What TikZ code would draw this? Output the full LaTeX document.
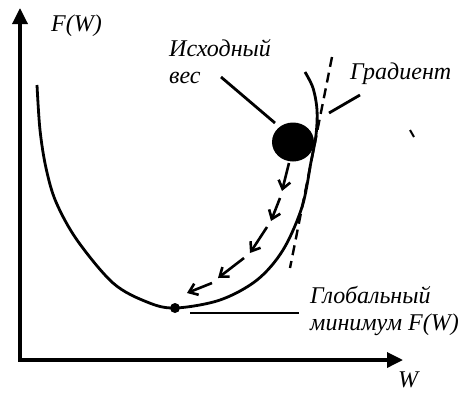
\documentclass[tikz,border=0pt]{standalone}
\usepackage{fontspec}
\setmainfont{Liberation Serif}
\usetikzlibrary{arrows.meta,shapes.geometric}
\begin{document}
\begin{tikzpicture}[x=1pt,y=-1pt,
  axis/.style={line width=3.4pt,-{Triangle[length=16pt,width=15pt]}},
  curve/.style={line width=2.8pt},
  lead/.style={line width=2.8pt},
  lbl/.style={font=\itshape\fontsize{24}{27}\selectfont,inner sep=0pt,align=left},
  stepar/.style={line width=2.6pt,-{Straight Barb[length=8pt,width=12pt]}}]
\useasboundingbox (0,0) rectangle (462,392);
% axes
\coordinate (O) at (20,360);
\coordinate (Ytop) at (20,8);
\coordinate (Xend) at (403,360);
\draw[axis] (O) -- (Ytop);
\draw[axis] ([xshift=-1.7pt]O) -- (Xend);
\node[lbl,anchor=west] (FW) at (51,26) {F(W)};
\node[lbl] (Wl) at (408,380) {W};
% curve
\draw[curve] plot[smooth,tension=0.55] coordinates {(37,85) (40,130) (46,168) (56,202) (77,240) (113,283) (147,302) (175,308) (220,300) (257,280) (283,250) (302,207) (311,162) (316,135) (317,110) (313,88) (305,72)};
% tangent
\coordinate (T1) at (332,57);
\coordinate (T2) at (290,268);
\draw[line width=2.4pt,dash pattern=on 10pt off 6pt] (T1) -- (T2);
% ball
\node[ellipse,fill=black,minimum width=42pt,minimum height=39pt,inner sep=0pt] (ball) at (293,142) {};
% minimum dot
\node[circle,fill=black,minimum size=10pt,inner sep=0pt] (min) at (175,308) {};
% labels
\node[lbl,anchor=north west] (start) at (169,39) {Исходный\\вес};
\node[lbl,anchor=west] (grad) at (350,74) {Градиент};
\node[lbl,anchor=north west] (glob) at (310,286) {Глобальный\\минимум F(W)};
% leaders
\coordinate (s1) at (221,77);
\coordinate (s2) at (275,123);
\draw[lead] (s1) -- (s2);
\coordinate (g1) at (360,95);
\coordinate (g2) at (329,113);
\draw[lead] (g1) -- (g2);
\coordinate (m1) at (190,313);
\coordinate (m2) at (299,313);
\draw[lead] (m1) -- (m2);
% stray tick
\coordinate (k1) at (410,130);
\coordinate (k2) at (414,137);
\draw[line width=2pt] (k1) -- (k2);
% descent arrows
\coordinate (a0) at (289,163);
\coordinate (a1) at (282,191);
\coordinate (b0) at (280,198);
\coordinate (b1) at (271,221);
\coordinate (c0) at (267,227);
\coordinate (c1) at (250,253);
\coordinate (d0) at (244,258);
\coordinate (d1) at (218,278);
\coordinate (e0) at (212,283);
\coordinate (e1) at (187,293);
\draw[stepar] (a0) -- (a1);
\draw[stepar] (b0) -- (b1);
\draw[stepar] (c0) -- (c1);
\draw[stepar] (d0) -- (d1);
\draw[stepar] (e0) -- (e1);
\end{tikzpicture}
\end{document}
